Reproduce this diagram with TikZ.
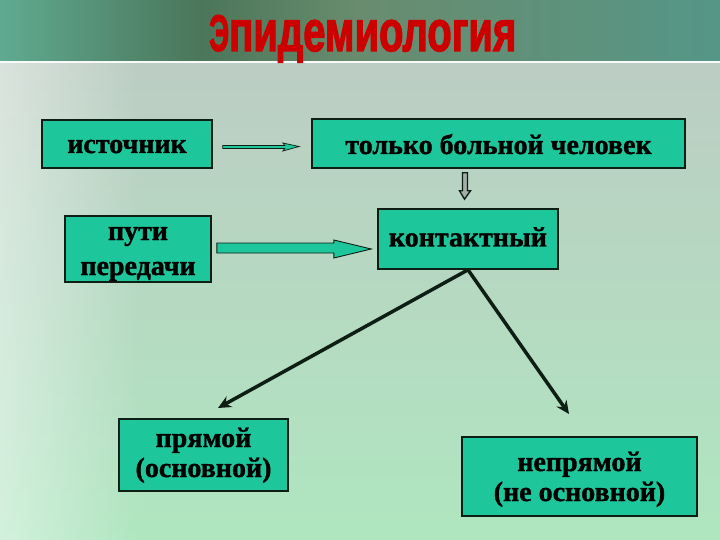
\documentclass[tikz,border=0pt]{standalone}
\usepackage{fontspec}
\setmainfont{Liberation Serif}[BoldFeatures={FakeBold=1.2}]
\newfontfamily\titlefont{Liberation Sans}[BoldFeatures={FakeBold=2.5}]
\usetikzlibrary{calc,arrows.meta,fadings}
\definecolor{boxteal}{RGB}{30,198,155}
\definecolor{boxline}{RGB}{15,30,20}
\definecolor{bandL}{RGB}{95,170,145}
\definecolor{bandM}{RGB}{75,118,90}
\definecolor{bandC}{RGB}{105,140,110}
\definecolor{bandR}{RGB}{85,150,135}
\definecolor{bgTop}{RGB}{188,205,195}
\definecolor{bgBot}{RGB}{175,230,192}
\definecolor{titlered}{RGB}{205,0,0}
\tikzset{
  box/.style={draw=boxline, line width=1.6pt, fill=boxteal, align=center,
    font=\fontsize{28}{30}\selectfont\bfseries, inner sep=0pt},
  diag/.style={draw=boxline, line width=3.5pt, -{Stealth[length=13pt,width=12pt]}},
  blockarrow/.style={draw=boxline, line width=0.9pt, fill=boxteal, line join=miter},
}
\begin{document}
\begin{tikzpicture}[x=1pt,y=-1pt]
\useasboundingbox (0,0) rectangle (720,540);
% background
\shade[top color=bgTop, bottom color=bgBot] (0,62) rectangle (720,540);
\fill[white, path fading=east, opacity=0.45] (0,62) rectangle (140,540);
\shade[left color=bandL, right color=bandM] (0,0) rectangle (200,61);
\shade[left color=bandM, right color=bandC] (200,0) rectangle (360,61);
\shade[left color=bandC, right color=bandR] (360,0) rectangle (720,61);
\fill[white!90!bgTop] (0,61) rectangle (720,63.5);
% title
\node[anchor=base west, text=titlered, inner sep=0pt] (title) at (209,51)
  {\titlefont\bfseries\resizebox{20pt}{36pt}{Э}\resizebox{287pt}{31pt}{пидемиология}};
% boxes
\node[box, minimum width=170pt, minimum height=48pt, text height=18pt, text depth=0pt] (src) at (127,144) {источник};
\node[box, minimum width=146pt, minimum height=66pt, text height=58pt, text depth=6pt,
  font=\fontsize{28}{35}\selectfont\bfseries] (ways) at (138,249) {пути\\передачи};
\node[box, minimum width=373pt, minimum height=49pt, text height=21pt, text depth=0pt] (sick) at (498.5,143.5) {только больной человек};
\node[box, minimum width=180pt, minimum height=60pt, text height=15pt, text depth=0pt] (contact) at (468,239) {контактный};
\node[box, minimum width=169pt, minimum height=72pt, text height=50pt, text depth=6pt] (direct) at (203.5,455) {прямой\\(основной)};
\node[box, minimum width=235pt, minimum height=79pt, text height=55pt, text depth=6pt] (indirect) at (579.5,476.5) {непрямой\\(не основной)};
% small arrow source -> sick
\draw[blockarrow, line width=0.7pt]
  ($(src.east)+(10,1.5)$) -- ($(src.east)+(72,1.5)$) -- ($(src.east)+(70,-1)$)
  -- ($(sick.west)+(-12,3)$) -- ($(src.east)+(70,7)$) -- ($(src.east)+(72,4.5)$)
  -- ($(src.east)+(10,4.5)$) -- cycle;
% big arrow ways -> contact
\draw[blockarrow]
  ($(ways.east)+(5,-6)$) -- ($(ways.east)+(122,-6)$) -- ($(ways.east)+(122,-9)$)
  -- ($(contact.west)+(-6,10)$) -- ($(ways.east)+(122,9)$) -- ($(ways.east)+(122,4)$)
  -- ($(ways.east)+(5,4)$) -- cycle;
% down arrow sick -> contact
\draw[draw=boxline, line width=1.3pt, fill=bgTop!60!gray]
  ($(sick.south)+(-36,4)$) -- ($(sick.south)+(-31,4)$) -- ($(sick.south)+(-31,22)$)
  -- ($(sick.south)+(-28,22)$) -- ($(contact.north)+(-3.5,-9)$) -- ($(sick.south)+(-39,22)$)
  -- ($(sick.south)+(-36,22)$) -- cycle;
% diagonal connectors
\coordinate (lend) at (218,408);
\coordinate (rend) at (569,414);
\draw[diag] (contact.south) -- (lend);
\draw[diag] (contact.south) -- (rend);
\end{tikzpicture}
\end{document}
